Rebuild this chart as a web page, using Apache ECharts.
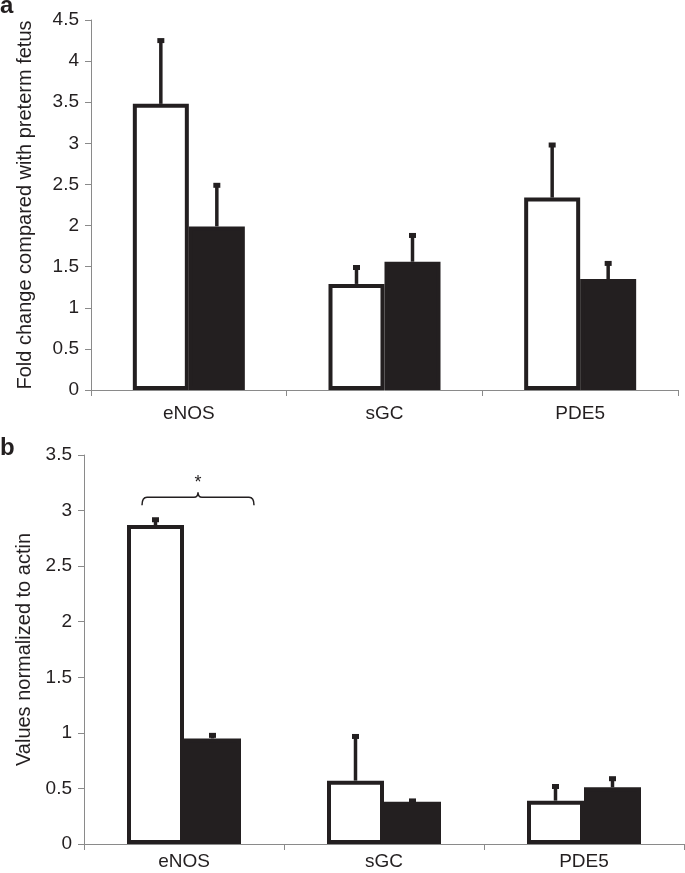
<!DOCTYPE html>
<html>
<head>
<meta charset="utf-8">
<script src="https://cdn.jsdelivr.net/npm/echarts@6/dist/echarts.min.js"></script>
<style>
html,body{margin:0;padding:0;background:#fff;}
#chart{width:685px;height:873px;}
</style>
</head>
<body>
<div id="chart"></div>
<script>
const categories = ['eNOS', 'sGC', 'PDE5'];
// Panel a: fold change compared with preterm fetus
const foldWhite = [3.48, 1.29, 2.34];
const foldWhiteErr = [0.80, 0.23, 0.67];
const foldBlack = [1.99, 1.56, 1.35];
const foldBlackErr = [0.53, 0.35, 0.22];
const foldMax = 4.5;
// Panel b: values normalized to actin
const actinWhite = [2.87, 0.57, 0.39];
const actinWhiteErr = [0.07, 0.42, 0.15];
const actinBlack = [0.95, 0.38, 0.51];
const actinBlackErr = [0.05, 0.03, 0.10];
const actinMax = 3.5;
const tickStep = 0.5;
// significance bracket over eNOS in panel b
const sigCategory = 0;
const sigLevel = 3.12;
const sigLabel = '*';

const INK = '#231f20';
const AXIS = '#8a8a8a';
const FONT = 'Liberation Sans, Arial, Helvetica, sans-serif';

function errData(vals, errs) {
  return vals.map((v, i) => [i, v, errs[i]]);
}
function errRender(offset) {
  return function (params, api) {
    const c = api.coord([api.value(0), api.value(1)]);
    const t = api.coord([api.value(0), api.value(1) + api.value(2)]);
    const x = c[0] + offset;
    return {
      type: 'group',
      children: [
        { type: 'line', shape: { x1: x, y1: c[1], x2: x, y2: t[1] + 2 }, style: { stroke: INK, lineWidth: 3.5 } },
        { type: 'rect', shape: { x: x - 3.5, y: t[1], width: 7, height: 5 }, style: { fill: INK } }
      ]
    };
  };
}
function bracketRender(params, api) {
  const p = api.coord([api.value(0), api.value(1)]);
  const cx = p[0] + 14, y = p[1];
  const L = cx - 56, R = cx + 56;
  const d = `M${L},${y + 8} Q${L},${y} ${L + 5},${y} L${cx - 4},${y} Q${cx},${y} ${cx},${y - 5} Q${cx},${y} ${cx + 4},${y} L${R - 5},${y} Q${R},${y} ${R},${y + 8}`;
  return {
    type: 'group',
    children: [
      { type: 'path', shape: { pathData: d }, style: { stroke: INK, lineWidth: 1.5, fill: null } },
      { type: 'text', x: cx, y: y - 14, style: { text: sigLabel, fill: INK, font: '18px ' + FONT, align: 'center', verticalAlign: 'middle' } }
    ]
  };
}

function xAxis(gridIndex, margin) {
  return {
    type: 'category', gridIndex, data: categories,
    axisLine: { lineStyle: { color: AXIS, width: 1 } },
    axisTick: { show: true, length: 6, lineStyle: { color: AXIS } },
    axisLabel: { color: INK, fontSize: 19, fontFamily: FONT, margin }
  };
}
function yAxis(gridIndex, max, name, nameGap) {
  return {
    type: 'value', gridIndex, min: 0, max, interval: tickStep,
    name, nameLocation: 'middle', nameGap,
    nameTextStyle: { color: INK, fontSize: 20, fontFamily: FONT },
    axisLine: { show: true, lineStyle: { color: AXIS, width: 1 } },
    axisTick: { show: true, length: 6, lineStyle: { color: AXIS } },
    axisLabel: { color: INK, fontSize: 19, fontFamily: FONT, margin: 12 },
    splitLine: { show: false }
  };
}
function barSeries(idx, data, fill, w) {
  return {
    type: 'bar', xAxisIndex: idx, yAxisIndex: idx, data, barWidth: w, barGap: '0%',
    itemStyle: { color: fill, borderColor: INK, borderWidth: 4 },
    animation: false
  };
}
function errSeries(idx, vals, errs, offset) {
  return {
    type: 'custom', xAxisIndex: idx, yAxisIndex: idx, data: errData(vals, errs),
    encode: { x: 0, y: 1 }, renderItem: errRender(offset), clip: false, z: 1, animation: false
  };
}

const chart = echarts.init(document.getElementById('chart'), null, { renderer: 'canvas' });
chart.setOption({
  animation: false,
  backgroundColor: '#ffffff',
  grid: [
    { left: 91, top: 20, width: 587, height: 370 },
    { left: 84, top: 455, width: 600, height: 389 }
  ],
  xAxis: [xAxis(0, 14), xAxis(1, 8)],
  yAxis: [
    yAxis(0, foldMax, 'Fold change compared with preterm fetus', 56),
    yAxis(1, actinMax, 'Values normalized to actin', 50)
  ],
  graphic: [
    { type: 'text', left: 0, top: -6, style: { text: 'a', fill: INK, font: 'bold 24px ' + FONT } },
    { type: 'text', left: 0, top: 436, style: { text: 'b', fill: INK, font: 'bold 24px ' + FONT } }
  ],
  series: [
    errSeries(0, foldWhite, foldWhiteErr, -28),
    errSeries(0, foldBlack, foldBlackErr, 28),
    barSeries(0, foldWhite, '#ffffff', 56),
    barSeries(0, foldBlack, INK, 56),
    errSeries(1, actinWhite, actinWhiteErr, -28.5),
    errSeries(1, actinBlack, actinBlackErr, 28.5),
    barSeries(1, actinWhite, '#ffffff', 57),
    barSeries(1, actinBlack, INK, 57),
    {
      type: 'custom', xAxisIndex: 1, yAxisIndex: 1, data: [[sigCategory, sigLevel]],
      encode: { x: 0, y: 1 }, renderItem: bracketRender, clip: false, animation: false
    }
  ]
});
</script>
</body>
</html>
